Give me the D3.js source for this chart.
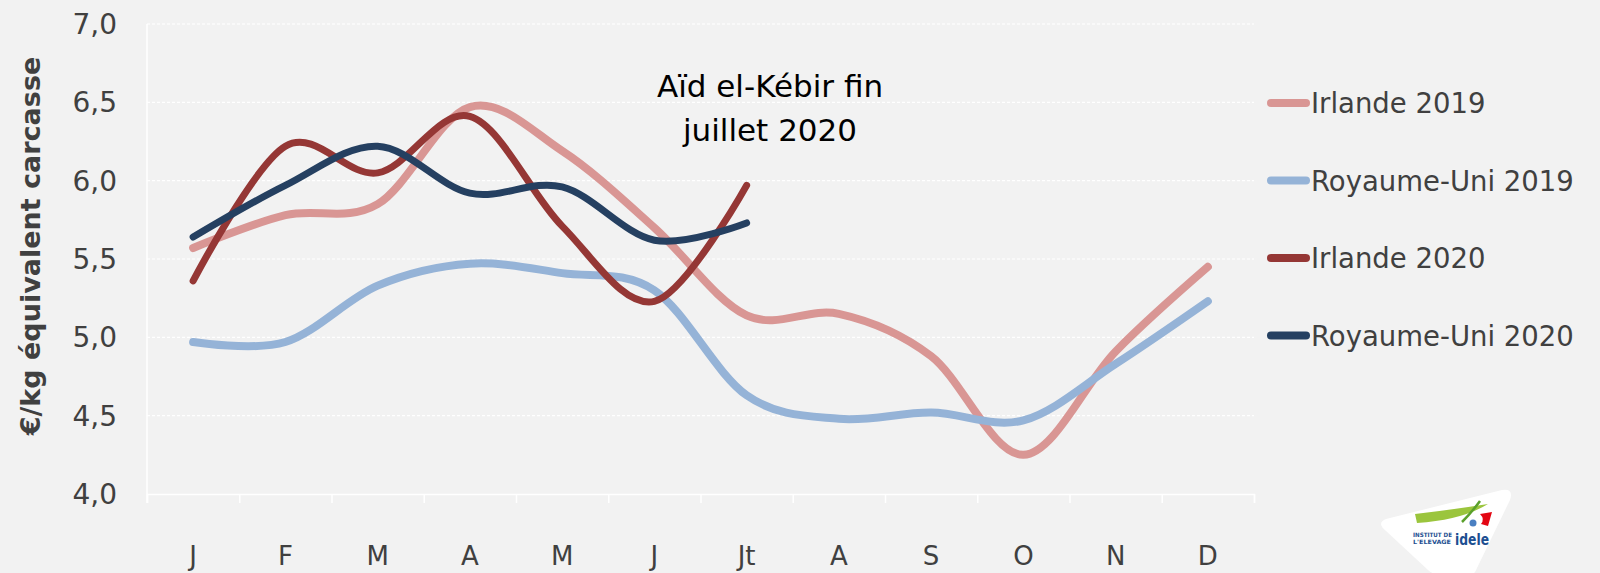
<!DOCTYPE html>
<html>
<head>
<meta charset="utf-8">
<script src="https://cdn.jsdelivr.net/npm/d3@7"></script>
<style>
  body { margin: 0; background: #f2f2f2; }
  text { font-family: "DejaVu Sans", sans-serif; }
</style>
</head>
<body>
<div id="chart"></div>
<script>
// months on the x axis
const months = ["J", "F", "M", "A", "M", "J", "Jt", "A", "S", "O", "N", "D"];
const yTicks = [4.0, 4.5, 5.0, 5.5, 6.0, 6.5, 7.0];

// values, euro / kg carcass
const irlande2019 = [5.57, 5.78, 5.85, 6.47, 6.19, 5.70, 5.14, 5.15, 4.88, 4.25, 4.91, 5.45];
const ru2019 = [4.97, 4.97, 5.33, 5.47, 5.41, 5.30, 4.63, 4.48, 4.52, 4.47, 4.83, 5.23];
const irlande2020 = [5.36, 6.22, 6.05, 6.41, 5.71, 5.23, 5.97];
const ru2020 = [5.64, 5.97, 6.22, 5.92, 5.96, 5.62, 5.73];

const seriesNames = ["Irlande 2019", "Royaume-Uni 2019", "Irlande 2020", "Royaume-Uni 2020"];
const seriesColors = ["#d99694", "#95b3d7", "#953735", "#254061"];

const series = [irlande2019, ru2019, irlande2020, ru2020];

const svgWidth = 1600;
const svgHeight = 573;

const margin = { top: 24, left: 147, right: 346, bottom: 79 };
const chartWidth = svgWidth - margin.left - margin.right;
const chartHeight = svgHeight - margin.top - margin.bottom;

let svg = d3.select("#chart")
  .append("svg")
  .attr("width", svgWidth)
  .attr("height", svgHeight)
  .style("display", "block");

svg.append("rect")
  .attr("width", svgWidth)
  .attr("height", svgHeight)
  .attr("fill", "#f2f2f2");

let chartGroup = svg.append("g")
  .attr("transform", `translate(${margin.left}, ${margin.top})`);

const x = d3.scaleBand().domain(d3.range(months.length)).range([0, chartWidth]);
const y = d3.scaleLinear().domain([4, 7]).range([chartHeight, 0]);

// dashed gridlines
chartGroup.selectAll(".grid")
  .data(yTicks.slice(1))
  .enter()
  .append("line")
  .attr("x1", 0)
  .attr("x2", chartWidth)
  .attr("y1", d => y(d))
  .attr("y2", d => y(d))
  .attr("stroke", "#ffffff")
  .attr("stroke-width", 1.2)
  .attr("stroke-dasharray", "3,2");

// left axis line
chartGroup.append("line")
  .attr("x1", 0).attr("x2", 0)
  .attr("y1", 0).attr("y2", chartHeight + 9)
  .attr("stroke", "#ffffff")
  .attr("stroke-width", 1.5);

// bottom axis
const xAxis = d3.axisBottom(d3.scaleLinear().domain([0, months.length]).range([0, chartWidth]))
  .tickValues(d3.range(months.length + 1))
  .tickSize(9)
  .tickFormat("");
let xg = chartGroup.append("g")
  .attr("transform", `translate(0, ${chartHeight})`)
  .call(xAxis);
xg.select(".domain").attr("stroke", "#ffffff").attr("stroke-width", 1.5);
xg.selectAll(".tick line").attr("stroke", "#ffffff").attr("stroke-width", 1.5);

chartGroup.selectAll(".month")
  .data(months)
  .enter()
  .append("text")
  .attr("x", (d, i) => x(i) + x.bandwidth() / 2)
  .attr("y", chartHeight + 71)
  .attr("text-anchor", "middle")
  .attr("font-size", 26)
  .attr("fill", "#404040")
  .text(d => d);

// y tick labels
chartGroup.selectAll(".ylab")
  .data(yTicks)
  .enter()
  .append("text")
  .attr("x", -30)
  .attr("y", d => y(d) + 10)
  .attr("text-anchor", "end")
  .attr("font-size", 28)
  .attr("fill", "#404040")
  .text(d => d3.format(".1f")(d).replace(".", ","));

// y axis title
svg.append("text")
  .attr("transform", `translate(40, ${margin.top + 222}) rotate(-90)`)
  .attr("text-anchor", "middle")
  .attr("font-size", 27)
  .attr("font-weight", "bold")
  .attr("fill", "#404040")
  .text("€/kg équivalent carcasse");

// lines
const line = d3.line()
  .x((d, i) => x(i) + x.bandwidth() / 2)
  .y(d => y(d))
  .curve(d3.curveCardinal.tension(0));

series.forEach((s, i) => {
  chartGroup.append("path")
    .attr("d", line(s))
    .attr("fill", "none")
    .attr("stroke", seriesColors[i])
    .attr("stroke-width", i < 2 ? 8 : 7)
    .attr("stroke-linecap", "round")
    .attr("stroke-linejoin", "round");
});

// annotation
let note = svg.append("text")
  .attr("text-anchor", "middle")
  .attr("font-family", "'Open Sans', sans-serif")
  .attr("font-size", 31)
  .attr("fill", "#000000");
note.append("tspan").attr("x", 770).attr("y", 97).text("Aïd el-Kébir fin");
note.append("tspan").attr("x", 770).attr("y", 141).text("juillet 2020");

// legend
let legend = svg.append("g");
seriesNames.forEach((name, i) => {
  const ly = 103 + i * 77.5;
  legend.append("line")
    .attr("x1", 1271).attr("x2", 1306)
    .attr("y1", ly).attr("y2", ly)
    .attr("stroke", seriesColors[i])
    .attr("stroke-width", 8)
    .attr("stroke-linecap", "round");
  legend.append("text")
    .attr("x", 1311)
    .attr("y", ly + 10)
    .attr("font-size", 27.5)
    .attr("fill", "#404040")
    .text(name);
});

// logo
let logo = svg.append("g").attr("transform", "translate(1380, 490)");
logo.append("path")
  .attr("d", "M6,29 Q-4,33 6,41 L48,80 Q55,86 66,86 L88,86 Q94,86 97,78 L130,10 Q134,-2 122,0 Z")
  .attr("fill", "#ffffff");
logo.append("path")
  .attr("d", "M35,24 Q70,20 108,14 Q82,30 37,33 Z")
  .attr("fill", "#9bc53d");
logo.append("path")
  .attr("d", "M82,32 Q92,22 100,11")
  .attr("stroke", "#5aa02c").attr("stroke-width", 2.5).attr("fill", "none");
logo.append("path")
  .attr("d", "M100,24 L112,22 L108,36 L101,34 Q105,29 100,24 Z")
  .attr("fill", "#e30613");
logo.append("circle")
  .attr("cx", 93).attr("cy", 33).attr("r", 3.5)
  .attr("fill", "#4a7fc1");
logo.append("text")
  .attr("x", 33).attr("y", 47)
  .attr("font-size", 6).attr("font-weight", "bold").attr("fill", "#1d4f91")
  .attr("textLength", 39).attr("lengthAdjust", "spacingAndGlyphs")
  .text("INSTITUT DE");
logo.append("text")
  .attr("x", 33).attr("y", 54)
  .attr("font-size", 6).attr("font-weight", "bold").attr("fill", "#1d4f91")
  .attr("textLength", 38).attr("lengthAdjust", "spacingAndGlyphs")
  .text("L'ELEVAGE");
logo.append("text")
  .attr("x", 75).attr("y", 55)
  .attr("font-size", 16).attr("font-weight", "bold").attr("fill", "#1d4f91")
  .attr("textLength", 34).attr("lengthAdjust", "spacingAndGlyphs")
  .text("idele");
</script>
</body>
</html>
